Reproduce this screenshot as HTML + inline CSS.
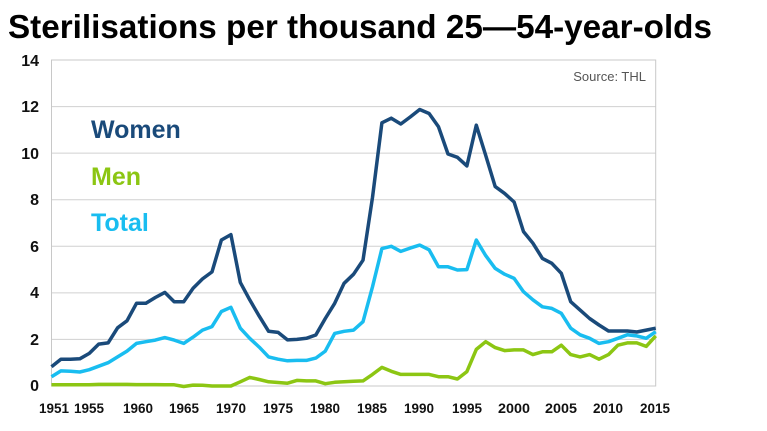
<!DOCTYPE html>
<html><head><meta charset="utf-8"><style>
html,body{margin:0;padding:0;background:#fff;}
svg{display:block;font-family:"Liberation Sans",sans-serif;}
</style></head><body>
<svg id="s" width="767" height="431" viewBox="0 0 767 431" xmlns="http://www.w3.org/2000/svg">
<text x="8" y="38" font-size="33" font-weight="bold" fill="#000" textLength="704" lengthAdjust="spacingAndGlyphs">Sterilisations per thousand 25—54-year-olds</text>
<g stroke="#d0d0d0" stroke-width="1">
<line x1="51.5" y1="106.6" x2="655.7" y2="106.6"/>
<line x1="51.5" y1="153.1" x2="655.7" y2="153.1"/>
<line x1="51.5" y1="199.7" x2="655.7" y2="199.7"/>
<line x1="51.5" y1="246.3" x2="655.7" y2="246.3"/>
<line x1="51.5" y1="292.9" x2="655.7" y2="292.9"/>
<line x1="51.5" y1="339.4" x2="655.7" y2="339.4"/>
</g>
<rect x="51.5" y="60" width="604.2" height="326" fill="none" stroke="#c8c8c8" stroke-width="1"/>
<g font-size="16" font-weight="bold" fill="#111" text-anchor="end">
<text x="39" y="66">14</text><text x="39" y="112">12</text><text x="39" y="159">10</text>
<text x="39" y="205">8</text><text x="39" y="252">6</text><text x="39" y="298">4</text>
<text x="39" y="345">2</text><text x="39" y="391">0</text>
</g>
<g font-size="14" font-weight="bold" fill="#111" text-anchor="middle">
<text x="54" y="413" textLength="30" lengthAdjust="spacingAndGlyphs">1951</text>
<text x="89" y="413" textLength="30" lengthAdjust="spacingAndGlyphs">1955</text>
<text x="138" y="413" textLength="30" lengthAdjust="spacingAndGlyphs">1960</text>
<text x="184" y="413" textLength="30" lengthAdjust="spacingAndGlyphs">1965</text>
<text x="231" y="413" textLength="30" lengthAdjust="spacingAndGlyphs">1970</text>
<text x="278" y="413" textLength="30" lengthAdjust="spacingAndGlyphs">1975</text>
<text x="325" y="413" textLength="30" lengthAdjust="spacingAndGlyphs">1980</text>
<text x="372" y="413" textLength="30" lengthAdjust="spacingAndGlyphs">1985</text>
<text x="419" y="413" textLength="30" lengthAdjust="spacingAndGlyphs">1990</text>
<text x="467" y="413" textLength="30" lengthAdjust="spacingAndGlyphs">1995</text>
<text x="514" y="413" textLength="32" lengthAdjust="spacingAndGlyphs">2000</text>
<text x="561" y="413" textLength="32" lengthAdjust="spacingAndGlyphs">2005</text>
<text x="608" y="413" textLength="30" lengthAdjust="spacingAndGlyphs">2010</text>
<text x="655" y="413" textLength="30" lengthAdjust="spacingAndGlyphs">2015</text>
</g>
<text x="646" y="81" font-size="13" fill="#555" text-anchor="end">Source: THL</text>
<g font-size="25" font-weight="bold">
<text x="91" y="138" fill="#1a4a7a">Women</text>
<text x="91" y="185" fill="#8cc613">Men</text>
<text x="91" y="231" fill="#19bdf0">Total</text>
</g>
<polyline id="men" fill="none" stroke="#8cc613" stroke-width="3.5" stroke-linejoin="round"/>
<polyline id="tot" fill="none" stroke="#19bdf0" stroke-width="3.5" stroke-linejoin="round"/>
<polyline id="wom" fill="none" stroke="#1a4a7a" stroke-width="3.5" stroke-linejoin="round"/>
</svg>
<script>
var W=[0.83,1.15,1.15,1.17,1.4,1.8,1.85,2.5,2.8,3.55,3.55,3.8,4.02,3.62,3.62,4.2,4.6,4.9,6.27,6.5,4.45,3.7,3.0,2.35,2.3,1.98,2.0,2.05,2.19,2.9,3.55,4.41,4.8,5.4,8.1,11.3,11.5,11.25,11.55,11.87,11.7,11.13,9.96,9.82,9.45,11.2,9.9,8.56,8.27,7.9,6.63,6.13,5.48,5.27,4.84,3.62,3.26,2.9,2.62,2.36,2.36,2.36,2.32,2.4,2.48];
var T=[0.4,0.65,0.63,0.6,0.7,0.85,1.0,1.25,1.5,1.83,1.9,1.97,2.08,1.97,1.83,2.1,2.4,2.55,3.2,3.38,2.48,2.05,1.67,1.25,1.15,1.08,1.1,1.1,1.2,1.5,2.26,2.35,2.4,2.76,4.26,5.9,6.0,5.78,5.92,6.05,5.85,5.12,5.12,4.98,5.0,6.27,5.6,5.05,4.8,4.62,4.05,3.7,3.4,3.33,3.12,2.48,2.2,2.05,1.83,1.9,2.05,2.2,2.15,2.05,2.33];
var M=[0.05,0.05,0.05,0.05,0.05,0.07,0.07,0.07,0.07,0.06,0.06,0.06,0.05,0.05,-0.02,0.04,0.03,0.0,0.0,0.0,0.18,0.37,0.28,0.18,0.15,0.12,0.24,0.22,0.22,0.1,0.16,0.18,0.2,0.22,0.5,0.8,0.63,0.5,0.5,0.5,0.5,0.4,0.4,0.3,0.62,1.57,1.9,1.65,1.52,1.55,1.55,1.35,1.47,1.47,1.75,1.35,1.25,1.35,1.15,1.35,1.75,1.85,1.85,1.7,2.15];
function pts(a){return a.map(function(v,i){return (51.5+i*9.44).toFixed(1)+','+(386-v*23.29).toFixed(1);}).join(' ');}
document.getElementById('wom').setAttribute('points',pts(W));
document.getElementById('tot').setAttribute('points',pts(T));
document.getElementById('men').setAttribute('points',pts(M));
</script>
</body></html>
